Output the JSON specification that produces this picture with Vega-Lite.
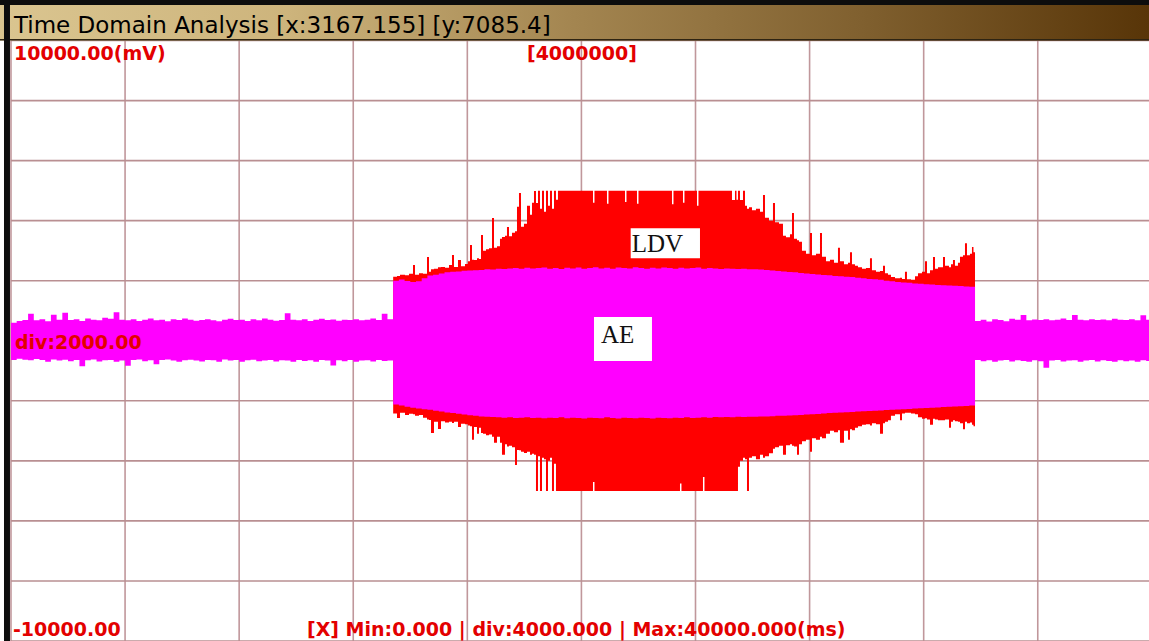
{
  "$schema": "https://vega.github.io/schema/vega-lite/v6.json",
  "width": 1149,
  "height": 641,
  "autosize": "none",
  "padding": 0,
  "background": "white",
  "config": {"view": {"stroke": null}},
  "datasets": {
    "gx": [{"t":0},{"t":4000},{"t":8000},{"t":12000},{"t":16000},{"t":20000},{"t":24000},{"t":28000},{"t":32000},{"t":36000}],
    "gy": [{"v":-10000},{"v":-8000},{"v":-6000},{"v":-4000},{"v":-2000},{"v":0},{"v":2000},{"v":4000},{"v":6000},{"v":8000},{"v":10000}],
    "ldv": [
      {"t":0,"hi":450,"lo":-450},
      {"t":13400,"hi":2130,"lo":-2420},{"t":13534,"hi":2160,"lo":-2570},{"t":13639,"hi":2200,"lo":-2400},{"t":13814,"hi":2180,"lo":-2470},
      {"t":13955,"hi":2230,"lo":-2430},{"t":14095,"hi":2520,"lo":-2450},{"t":14165,"hi":2200,"lo":-2500},{"t":14305,"hi":2250,"lo":-2470},
      {"t":14445,"hi":2230,"lo":-2560},{"t":14586,"hi":2790,"lo":-2620},{"t":14656,"hi":2300,"lo":-2640},{"t":14726,"hi":2380,"lo":-3070},
      {"t":14831,"hi":2400,"lo":-2700},{"t":14971,"hi":2450,"lo":-2940},{"t":15076,"hi":2460,"lo":-2680},{"t":15217,"hi":2430,"lo":-2720},
      {"t":15357,"hi":2520,"lo":-2700},{"t":15462,"hi":2860,"lo":-2740},{"t":15532,"hi":2460,"lo":-2700},{"t":15672,"hi":2690,"lo":-2870},
      {"t":15778,"hi":2480,"lo":-2760},{"t":15918,"hi":2560,"lo":-2780},{"t":16023,"hi":2650,"lo":-2820},{"t":16093,"hi":3190,"lo":-2850},
      {"t":16163,"hi":2700,"lo":-3300},{"t":16233,"hi":2690,"lo":-2870},{"t":16339,"hi":2750,"lo":-3100},{"t":16409,"hi":2720,"lo":-2900},
      {"t":16479,"hi":3520,"lo":-3070},{"t":16549,"hi":3000,"lo":-3100},{"t":16654,"hi":3050,"lo":-3150},{"t":16759,"hi":3080,"lo":-3120},
      {"t":16865,"hi":4090,"lo":-3200},{"t":16935,"hi":3100,"lo":-3400},{"t":17040,"hi":3150,"lo":-3200},{"t":17145,"hi":3400,"lo":-3400},
      {"t":17215,"hi":3460,"lo":-3800},{"t":17320,"hi":3500,"lo":-3450},{"t":17390,"hi":3790,"lo":-3520},{"t":17461,"hi":3480,"lo":-3500},
      {"t":17566,"hi":3600,"lo":-3550},{"t":17671,"hi":3650,"lo":-4140},{"t":17741,"hi":4460,"lo":-3640},{"t":17811,"hi":4920,"lo":-3650},
      {"t":17881,"hi":3800,"lo":-3700},{"t":17986,"hi":3900,"lo":-3740},{"t":18092,"hi":4500,"lo":-3700},{"t":18197,"hi":4200,"lo":-3800},
      {"t":18267,"hi":4600,"lo":-3760},{"t":18337,"hi":4990,"lo":-3800},{"t":18407,"hi":4590,"lo":-5000},{"t":18477,"hi":5000,"lo":-3850},
      {"t":18547,"hi":4400,"lo":-5000},{"t":18618,"hi":5000,"lo":-3900},{"t":18688,"hi":4300,"lo":-3950},{"t":18758,"hi":5000,"lo":-5000},
      {"t":18828,"hi":4500,"lo":-4000},{"t":18898,"hi":5000,"lo":-3900},{"t":18968,"hi":4400,"lo":-5000},{"t":19038,"hi":5000,"lo":-4100},
      {"t":19108,"hi":4700,"lo":-5000},{"t":19178,"hi":5000,"lo":-5000},
      {"t":20406,"hi":4600,"lo":-4700},{"t":20458,"hi":5000,"lo":-5000},{"t":20896,"hi":4560,"lo":-5000},{"t":20949,"hi":5000,"lo":-5000},
      {"t":21528,"hi":4620,"lo":-5000},{"t":21580,"hi":5000,"lo":-5000},{"t":21948,"hi":4560,"lo":-5000},{"t":22001,"hi":5000,"lo":-5000},
      {"t":23175,"hi":4550,"lo":-5000},{"t":23228,"hi":5000,"lo":-5000},{"t":23456,"hi":5000,"lo":-4750},{"t":23508,"hi":5000,"lo":-5000},
      {"t":23561,"hi":4600,"lo":-5000},{"t":23613,"hi":5000,"lo":-5000},{"t":24052,"hi":4500,"lo":-5000},{"t":24104,"hi":5000,"lo":-5000},
      {"t":24262,"hi":5000,"lo":-4540},{"t":24314,"hi":5000,"lo":-5000},
      {"t":25279,"hi":4690,"lo":-5000},{"t":25384,"hi":5000,"lo":-5000},{"t":25437,"hi":4700,"lo":-5000},{"t":25489,"hi":5000,"lo":-4200},
      {"t":25559,"hi":4690,"lo":-4000},{"t":25665,"hi":5000,"lo":-3900},{"t":25735,"hi":4500,"lo":-3950},{"t":25805,"hi":4400,"lo":-5000},
      {"t":25875,"hi":4450,"lo":-3900},{"t":25980,"hi":4350,"lo":-3850},{"t":26120,"hi":4400,"lo":-3950},{"t":26261,"hi":4300,"lo":-3800},
      {"t":26366,"hi":4857,"lo":-3900},{"t":26436,"hi":4100,"lo":-3850},{"t":26576,"hi":4000,"lo":-3750},{"t":26716,"hi":4590,"lo":-3600},
      {"t":26787,"hi":3950,"lo":-3550},{"t":26927,"hi":3900,"lo":-3500},{"t":27067,"hi":3500,"lo":-3800},{"t":27172,"hi":3450,"lo":-3480},
      {"t":27312,"hi":3550,"lo":-3450},{"t":27383,"hi":4257,"lo":-3500},{"t":27453,"hi":3400,"lo":-3520},{"t":27558,"hi":3350,"lo":-3800},
      {"t":27628,"hi":3300,"lo":-3450},{"t":27733,"hi":3000,"lo":-3350},{"t":27873,"hi":2900,"lo":-3300},{"t":28014,"hi":3590,"lo":-3700},
      {"t":28084,"hi":2850,"lo":-3250},{"t":28224,"hi":2900,"lo":-3300},{"t":28364,"hi":3590,"lo":-3200},{"t":28434,"hi":2800,"lo":-3250},
      {"t":28575,"hi":2650,"lo":-3100},{"t":28715,"hi":2700,"lo":-3000},{"t":28855,"hi":2600,"lo":-3050},{"t":28995,"hi":3100,"lo":-2980},
      {"t":29065,"hi":2650,"lo":-3400},{"t":29206,"hi":2550,"lo":-3000},{"t":29346,"hi":2600,"lo":-3300},{"t":29416,"hi":2950,"lo":-2950},
      {"t":29486,"hi":2550,"lo":-2980},{"t":29591,"hi":2500,"lo":-2900},{"t":29696,"hi":2450,"lo":-2850},{"t":29837,"hi":2400,"lo":-2800},
      {"t":29977,"hi":2420,"lo":-2780},{"t":30117,"hi":2750,"lo":-2820},{"t":30187,"hi":2350,"lo":-2750},{"t":30328,"hi":2300,"lo":-2780},
      {"t":30468,"hi":2320,"lo":-3100},{"t":30573,"hi":2500,"lo":-2750},{"t":30643,"hi":2250,"lo":-2700},{"t":30748,"hi":2200,"lo":-2650},
      {"t":30853,"hi":2120,"lo":-2500},{"t":30994,"hi":2080,"lo":-2450},{"t":31169,"hi":2100,"lo":-2650},{"t":31239,"hi":2060,"lo":-2420},
      {"t":31344,"hi":2300,"lo":-2400},{"t":31414,"hi":2050,"lo":-2400},{"t":31555,"hi":2030,"lo":-2420},{"t":31695,"hi":2150,"lo":-2450},
      {"t":31800,"hi":2250,"lo":-2550},{"t":31940,"hi":2300,"lo":-2600},{"t":32046,"hi":2650,"lo":-2580},{"t":32116,"hi":2250,"lo":-2620},
      {"t":32221,"hi":2350,"lo":-2800},{"t":32326,"hi":2790,"lo":-2600},{"t":32396,"hi":2400,"lo":-2620},{"t":32501,"hi":2450,"lo":-2650},
      {"t":32677,"hi":2790,"lo":-2650},{"t":32747,"hi":2500,"lo":-2620},{"t":32887,"hi":2450,"lo":-2900},{"t":32957,"hi":2550,"lo":-2700},
      {"t":33027,"hi":2690,"lo":-2650},{"t":33097,"hi":2500,"lo":-2680},{"t":33202,"hi":2600,"lo":-2700},{"t":33273,"hi":2800,"lo":-2750},
      {"t":33378,"hi":2850,"lo":-2950},{"t":33448,"hi":3250,"lo":-2700},{"t":33518,"hi":2850,"lo":-2750},{"t":33623,"hi":2900,"lo":-2720},
      {"t":33693,"hi":3125,"lo":-2800},{"t":33746,"hi":2950,"lo":-2850},
      {"t":33800,"hi":450,"lo":-450},{"t":39900,"hi":450,"lo":-450}
    ],
    "ae": [
      {"t":0,"hi":600,"lo":-640},{"t":200,"hi":660,"lo":-600},{"t":400,"hi":690,"lo":-630},{"t":600,"hi":900,"lo":-650},
      {"t":800,"hi":680,"lo":-610},{"t":1000,"hi":720,"lo":-640},{"t":1200,"hi":650,"lo":-700},{"t":1400,"hi":870,"lo":-620},
      {"t":1600,"hi":700,"lo":-660},{"t":1800,"hi":930,"lo":-630},{"t":2000,"hi":690,"lo":-680},{"t":2200,"hi":720,"lo":-640},
      {"t":2400,"hi":660,"lo":-850},{"t":2600,"hi":740,"lo":-650},{"t":2800,"hi":700,"lo":-620},{"t":3000,"hi":680,"lo":-690},
      {"t":3200,"hi":770,"lo":-650},{"t":3400,"hi":730,"lo":-640},{"t":3600,"hi":950,"lo":-700},{"t":3800,"hi":700,"lo":-660},
      {"t":4000,"hi":680,"lo":-830},{"t":4200,"hi":720,"lo":-640},{"t":4400,"hi":660,"lo":-620},{"t":4600,"hi":700,"lo":-680},
      {"t":4800,"hi":740,"lo":-650},{"t":5000,"hi":680,"lo":-780},{"t":5200,"hi":700,"lo":-640},{"t":5400,"hi":650,"lo":-620},
      {"t":5600,"hi":720,"lo":-660},{"t":5800,"hi":690,"lo":-700},{"t":6000,"hi":740,"lo":-650},{"t":6200,"hi":700,"lo":-630},
      {"t":6400,"hi":670,"lo":-660},{"t":6600,"hi":690,"lo":-690},{"t":6800,"hi":720,"lo":-640},{"t":7000,"hi":680,"lo":-650},
      {"t":7200,"hi":650,"lo":-700},{"t":7400,"hi":700,"lo":-620},{"t":7600,"hi":730,"lo":-660},{"t":7800,"hi":690,"lo":-640},
      {"t":8000,"hi":700,"lo":-700},{"t":8200,"hi":660,"lo":-650},{"t":8400,"hi":720,"lo":-630},{"t":8600,"hi":680,"lo":-680},
      {"t":8800,"hi":740,"lo":-660},{"t":9000,"hi":700,"lo":-640},{"t":9200,"hi":670,"lo":-690},{"t":9400,"hi":690,"lo":-650},
      {"t":9600,"hi":920,"lo":-660},{"t":9800,"hi":700,"lo":-700},{"t":10000,"hi":680,"lo":-640},{"t":10200,"hi":720,"lo":-670},
      {"t":10400,"hi":660,"lo":-650},{"t":10600,"hi":700,"lo":-700},{"t":10800,"hi":730,"lo":-640},{"t":11000,"hi":690,"lo":-660},
      {"t":11200,"hi":710,"lo":-820},{"t":11400,"hi":670,"lo":-650},{"t":11600,"hi":700,"lo":-680},{"t":11800,"hi":690,"lo":-640},
      {"t":12000,"hi":720,"lo":-700},{"t":12200,"hi":680,"lo":-660},{"t":12400,"hi":700,"lo":-650},{"t":12600,"hi":740,"lo":-690},
      {"t":12800,"hi":690,"lo":-640},{"t":13000,"hi":900,"lo":-670},{"t":13200,"hi":720,"lo":-660},
      {"t":13400,"hi":2000,"lo":-2120},{"t":13600,"hi":2040,"lo":-2160},{"t":13800,"hi":1990,"lo":-2200},{"t":14000,"hi":1960,"lo":-2230},
      {"t":14200,"hi":1980,"lo":-2260},{"t":14400,"hi":2080,"lo":-2280},{"t":14600,"hi":2170,"lo":-2300},{"t":14800,"hi":2200,"lo":-2330},
      {"t":15000,"hi":2240,"lo":-2360},{"t":15200,"hi":2280,"lo":-2390},{"t":15400,"hi":2300,"lo":-2410},{"t":15600,"hi":2310,"lo":-2430},
      {"t":15800,"hi":2330,"lo":-2460},{"t":16000,"hi":2340,"lo":-2480},{"t":16200,"hi":2350,"lo":-2500},{"t":16400,"hi":2360,"lo":-2520},
      {"t":16600,"hi":2380,"lo":-2530},{"t":16800,"hi":2370,"lo":-2540},{"t":17000,"hi":2400,"lo":-2550},{"t":17200,"hi":2390,"lo":-2560},
      {"t":17400,"hi":2410,"lo":-2550},{"t":17600,"hi":2420,"lo":-2570},{"t":17800,"hi":2400,"lo":-2560},{"t":18000,"hi":2430,"lo":-2550},
      {"t":18200,"hi":2410,"lo":-2570},{"t":18400,"hi":2420,"lo":-2560},{"t":18600,"hi":2440,"lo":-2580},{"t":18800,"hi":2400,"lo":-2560},
      {"t":19000,"hi":2420,"lo":-2570},{"t":19200,"hi":2390,"lo":-2550},{"t":19400,"hi":2430,"lo":-2580},{"t":19600,"hi":2410,"lo":-2560},
      {"t":19800,"hi":2440,"lo":-2570},{"t":20000,"hi":2400,"lo":-2590},{"t":20200,"hi":2420,"lo":-2560},{"t":20400,"hi":2450,"lo":-2570},
      {"t":20600,"hi":2410,"lo":-2580},{"t":20800,"hi":2430,"lo":-2550},{"t":21000,"hi":2400,"lo":-2570},{"t":21200,"hi":2440,"lo":-2590},
      {"t":21400,"hi":2420,"lo":-2560},{"t":21600,"hi":2410,"lo":-2570},{"t":21800,"hi":2450,"lo":-2580},{"t":22000,"hi":2420,"lo":-2560},
      {"t":22200,"hi":2400,"lo":-2570},{"t":22400,"hi":2430,"lo":-2590},{"t":22600,"hi":2410,"lo":-2560},{"t":22800,"hi":2440,"lo":-2570},
      {"t":23000,"hi":2420,"lo":-2580},{"t":23200,"hi":2400,"lo":-2560},{"t":23400,"hi":2430,"lo":-2570},{"t":23600,"hi":2410,"lo":-2550},
      {"t":23800,"hi":2420,"lo":-2570},{"t":24000,"hi":2440,"lo":-2560},{"t":24200,"hi":2400,"lo":-2550},{"t":24400,"hi":2420,"lo":-2560},
      {"t":24600,"hi":2410,"lo":-2540},{"t":24800,"hi":2390,"lo":-2550},{"t":25000,"hi":2410,"lo":-2540},{"t":25200,"hi":2400,"lo":-2550},
      {"t":25400,"hi":2390,"lo":-2530},{"t":25600,"hi":2400,"lo":-2540},{"t":25800,"hi":2380,"lo":-2530},{"t":26000,"hi":2380,"lo":-2530},
      {"t":26200,"hi":2370,"lo":-2520},{"t":26400,"hi":2360,"lo":-2520},{"t":26600,"hi":2340,"lo":-2510},{"t":26800,"hi":2320,"lo":-2500},
      {"t":27000,"hi":2310,"lo":-2500},{"t":27200,"hi":2290,"lo":-2490},{"t":27400,"hi":2280,"lo":-2480},{"t":27600,"hi":2260,"lo":-2470},
      {"t":27800,"hi":2240,"lo":-2460},{"t":28000,"hi":2220,"lo":-2450},{"t":28200,"hi":2210,"lo":-2440},{"t":28400,"hi":2190,"lo":-2420},
      {"t":28600,"hi":2180,"lo":-2410},{"t":28800,"hi":2160,"lo":-2400},{"t":29000,"hi":2150,"lo":-2390},{"t":29200,"hi":2130,"lo":-2380},
      {"t":29400,"hi":2120,"lo":-2370},{"t":29600,"hi":2100,"lo":-2360},{"t":29800,"hi":2080,"lo":-2350},{"t":30000,"hi":2060,"lo":-2340},
      {"t":30200,"hi":2050,"lo":-2330},{"t":30400,"hi":2030,"lo":-2320},{"t":30600,"hi":2000,"lo":-2310},{"t":30800,"hi":1980,"lo":-2300},
      {"t":31000,"hi":1960,"lo":-2290},{"t":31200,"hi":1940,"lo":-2280},{"t":31400,"hi":1930,"lo":-2270},{"t":31600,"hi":1910,"lo":-2260},
      {"t":31800,"hi":1900,"lo":-2250},{"t":32000,"hi":1880,"lo":-2240},{"t":32200,"hi":1870,"lo":-2230},{"t":32400,"hi":1860,"lo":-2220},
      {"t":32600,"hi":1850,"lo":-2210},{"t":32800,"hi":1840,"lo":-2200},{"t":33000,"hi":1830,"lo":-2190},{"t":33200,"hi":1820,"lo":-2180},
      {"t":33400,"hi":1810,"lo":-2170},{"t":33600,"hi":1800,"lo":-2160},
      {"t":33800,"hi":660,"lo":-640},{"t":34000,"hi":700,"lo":-680},{"t":34200,"hi":640,"lo":-650},{"t":34400,"hi":720,"lo":-700},
      {"t":34600,"hi":690,"lo":-660},{"t":34800,"hi":650,"lo":-640},{"t":35000,"hi":730,"lo":-690},{"t":35200,"hi":700,"lo":-650},
      {"t":35400,"hi":860,"lo":-670},{"t":35600,"hi":680,"lo":-700},{"t":35800,"hi":710,"lo":-650},{"t":36000,"hi":690,"lo":-680},
      {"t":36200,"hi":720,"lo":-900},{"t":36400,"hi":680,"lo":-660},{"t":36600,"hi":700,"lo":-640},{"t":36800,"hi":740,"lo":-690},
      {"t":37000,"hi":690,"lo":-660},{"t":37200,"hi":860,"lo":-650},{"t":37400,"hi":700,"lo":-700},{"t":37600,"hi":680,"lo":-660},
      {"t":37800,"hi":720,"lo":-640},{"t":38000,"hi":690,"lo":-690},{"t":38200,"hi":710,"lo":-650},{"t":38400,"hi":680,"lo":-670},
      {"t":38600,"hi":730,"lo":-700},{"t":38800,"hi":700,"lo":-650},{"t":39000,"hi":690,"lo":-680},{"t":39200,"hi":720,"lo":-660},
      {"t":39400,"hi":680,"lo":-700},{"t":39600,"hi":850,"lo":-650},{"t":39800,"hi":700,"lo":-670},{"t":39900,"hi":690,"lo":-660}
    ]
  },
  "layer": [
    {
      "data": {"name": "gx"},
      "mark": {"type": "rule", "color": "#c0979b", "strokeWidth": 1.6},
      "encoding": {
        "x": {"field": "t", "type": "quantitative", "scale": {"domain": [-385, 39900], "nice": false, "zero": false}, "axis": null},
        "y": {"datum": -10000, "type": "quantitative", "scale": {"domain": [-10000, 11350], "nice": false, "zero": false}, "axis": null},
        "y2": {"datum": 10000}
      }
    },
    {
      "data": {"name": "gy"},
      "mark": {"type": "rule", "color": "#b98f92", "strokeWidth": 1.6},
      "encoding": {
        "y": {"field": "v", "type": "quantitative", "scale": {"domain": [-10000, 11350], "nice": false, "zero": false}, "axis": null},
        "x": {"datum": 0, "type": "quantitative", "scale": {"domain": [-385, 39900], "nice": false, "zero": false}, "axis": null},
        "x2": {"datum": 39900}
      }
    },
    {
      "data": {"name": "ldv"},
      "mark": {"type": "area", "interpolate": "step-after", "color": "#ff0000", "opacity": 1},
      "encoding": {
        "x": {"field": "t", "type": "quantitative", "scale": {"domain": [-385, 39900], "nice": false, "zero": false}, "axis": null},
        "y": {"field": "hi", "type": "quantitative", "scale": {"domain": [-10000, 11350], "nice": false, "zero": false}, "axis": null},
        "y2": {"field": "lo"}
      }
    },
    {
      "data": {"name": "ae"},
      "mark": {"type": "area", "interpolate": "step-after", "color": "#ff00ff", "opacity": 1},
      "encoding": {
        "x": {"field": "t", "type": "quantitative", "scale": {"domain": [-385, 39900], "nice": false, "zero": false}, "axis": null},
        "y": {"field": "hi", "type": "quantitative", "scale": {"domain": [-10000, 11350], "nice": false, "zero": false}, "axis": null},
        "y2": {"field": "lo"}
      }
    },
    {
      "data": {"values": [{}]},
      "mark": {"type": "rect", "color": "#ffffff"},
      "encoding": {
        "x": {"datum": 21727, "type": "quantitative", "scale": {"domain": [-385, 39900], "nice": false, "zero": false}, "axis": null},
        "x2": {"datum": 24157},
        "y": {"datum": 3746, "type": "quantitative", "scale": {"domain": [-10000, 11350], "nice": false, "zero": false}, "axis": null},
        "y2": {"datum": 2747}
      }
    },
    {
      "data": {"values": [{}]},
      "mark": {"type": "rect", "color": "#ffffff"},
      "encoding": {
        "x": {"datum": 20441, "type": "quantitative", "scale": {"domain": [-385, 39900], "nice": false, "zero": false}, "axis": null},
        "x2": {"datum": 22474},
        "y": {"datum": 792, "type": "quantitative", "scale": {"domain": [-10000, 11350], "nice": false, "zero": false}, "axis": null},
        "y2": {"datum": -674}
      }
    },
    {
      "data": {"values": [{}]},
      "mark": {"type": "text", "text": "LDV", "font": "Liberation Serif", "fontSize": 25, "color": "#111111", "align": "left", "baseline": "alphabetic"},
      "encoding": {
        "x": {"datum": 21763, "type": "quantitative", "scale": {"domain": [-385, 39900], "nice": false, "zero": false}, "axis": null},
        "y": {"datum": 2967, "type": "quantitative", "scale": {"domain": [-10000, 11350], "nice": false, "zero": false}, "axis": null}
      }
    },
    {
      "data": {"values": [{}]},
      "mark": {"type": "text", "text": "AE", "font": "Liberation Serif", "fontSize": 25, "color": "#111111", "align": "left", "baseline": "alphabetic"},
      "encoding": {
        "x": {"datum": 20688, "type": "quantitative", "scale": {"domain": [-385, 39900], "nice": false, "zero": false}, "axis": null},
        "y": {"datum": -74, "type": "quantitative", "scale": {"domain": [-10000, 11350], "nice": false, "zero": false}, "axis": null}
      }
    },
    {
      "data": {"values": [{}]},
      "mark": {"type": "rect", "color": {"gradient": "linear", "x1": 0, "y1": 0, "x2": 1, "y2": 0, "stops": [{"offset": 0, "color": "#dac590"}, {"offset": 0.25, "color": "#cdb47c"}, {"offset": 0.5, "color": "#a38550"}, {"offset": 0.75, "color": "#80602f"}, {"offset": 1, "color": "#583508"}]}},
      "encoding": {
        "x": {"datum": -385, "type": "quantitative", "scale": {"domain": [-385, 39900], "nice": false, "zero": false}, "axis": null},
        "x2": {"datum": 39900},
        "y": {"datum": 10000, "type": "quantitative", "scale": {"domain": [-10000, 11350], "nice": false, "zero": false}, "axis": null},
        "y2": {"datum": 11183}
      }
    },
    {
      "data": {"values": [{}]},
      "mark": {"type": "rule", "color": "#2e2412", "strokeWidth": 1.5},
      "encoding": {
        "x": {"datum": -385, "type": "quantitative", "scale": {"domain": [-385, 39900], "nice": false, "zero": false}, "axis": null},
        "x2": {"datum": 39900},
        "y": {"datum": 10030, "type": "quantitative", "scale": {"domain": [-10000, 11350], "nice": false, "zero": false}, "axis": null}
      }
    },
    {
      "data": {"values": [{}]},
      "mark": {"type": "rect", "color": "#0d0d0d"},
      "encoding": {
        "x": {"datum": -385, "type": "quantitative", "scale": {"domain": [-385, 39900], "nice": false, "zero": false}, "axis": null},
        "x2": {"datum": 39900},
        "y": {"datum": 11183, "type": "quantitative", "scale": {"domain": [-10000, 11350], "nice": false, "zero": false}, "axis": null},
        "y2": {"datum": 11350}
      }
    },
    {
      "data": {"values": [{}]},
      "mark": {"type": "rect", "color": "#0d0d0d"},
      "encoding": {
        "x": {"datum": -245, "type": "quantitative", "scale": {"domain": [-385, 39900], "nice": false, "zero": false}, "axis": null},
        "x2": {"datum": -35},
        "y": {"datum": -10000, "type": "quantitative", "scale": {"domain": [-10000, 11350], "nice": false, "zero": false}, "axis": null},
        "y2": {"datum": 11350}
      }
    },
    {
      "data": {"values": [{}]},
      "mark": {"type": "text", "text": "Time Domain Analysis [x:3167.155] [y:7085.4]", "font": "DejaVu Sans", "fontSize": 23, "color": "#000000", "align": "left", "baseline": "alphabetic"},
      "encoding": {
        "x": {"datum": 105, "type": "quantitative", "scale": {"domain": [-385, 39900], "nice": false, "zero": false}, "axis": null},
        "y": {"datum": 10250, "type": "quantitative", "scale": {"domain": [-10000, 11350], "nice": false, "zero": false}, "axis": null}
      }
    },
    {
      "data": {"values": [{}]},
      "mark": {"type": "text", "text": "10000.00(mV)", "font": "DejaVu Sans", "fontWeight": "bold", "fontSize": 19, "color": "#e30000", "align": "left", "baseline": "alphabetic"},
      "encoding": {
        "x": {"datum": 105, "type": "quantitative", "scale": {"domain": [-385, 39900], "nice": false, "zero": false}, "axis": null},
        "y": {"datum": 9368, "type": "quantitative", "scale": {"domain": [-10000, 11350], "nice": false, "zero": false}, "axis": null}
      }
    },
    {
      "data": {"values": [{}]},
      "mark": {"type": "text", "text": "[4000000]", "font": "DejaVu Sans", "fontWeight": "bold", "fontSize": 19, "color": "#e30000", "align": "left", "baseline": "alphabetic"},
      "encoding": {
        "x": {"datum": 18091, "type": "quantitative", "scale": {"domain": [-385, 39900], "nice": false, "zero": false}, "axis": null},
        "y": {"datum": 9368, "type": "quantitative", "scale": {"domain": [-10000, 11350], "nice": false, "zero": false}, "axis": null}
      }
    },
    {
      "data": {"values": [{}]},
      "mark": {"type": "text", "text": "div:2000.00", "font": "DejaVu Sans", "fontWeight": "bold", "fontSize": 19, "color": "#e30000", "align": "left", "baseline": "alphabetic"},
      "encoding": {
        "x": {"datum": 140, "type": "quantitative", "scale": {"domain": [-385, 39900], "nice": false, "zero": false}, "axis": null},
        "y": {"datum": -273, "type": "quantitative", "scale": {"domain": [-10000, 11350], "nice": false, "zero": false}, "axis": null}
      }
    },
    {
      "data": {"values": [{}]},
      "mark": {"type": "text", "text": "-10000.00", "font": "DejaVu Sans", "fontWeight": "bold", "fontSize": 19, "color": "#e30000", "align": "left", "baseline": "alphabetic"},
      "encoding": {
        "x": {"datum": 70, "type": "quantitative", "scale": {"domain": [-385, 39900], "nice": false, "zero": false}, "axis": null},
        "y": {"datum": -9833, "type": "quantitative", "scale": {"domain": [-10000, 11350], "nice": false, "zero": false}, "axis": null}
      }
    },
    {
      "data": {"values": [{}]},
      "mark": {"type": "text", "text": "[X] Min:0.000 | div:4000.000 | Max:40000.000(ms)", "font": "DejaVu Sans", "fontWeight": "bold", "fontSize": 19, "color": "#e30000", "align": "left", "baseline": "alphabetic"},
      "encoding": {
        "x": {"datum": 10378, "type": "quantitative", "scale": {"domain": [-385, 39900], "nice": false, "zero": false}, "axis": null},
        "y": {"datum": -9833, "type": "quantitative", "scale": {"domain": [-10000, 11350], "nice": false, "zero": false}, "axis": null}
      }
    }
  ]
}
